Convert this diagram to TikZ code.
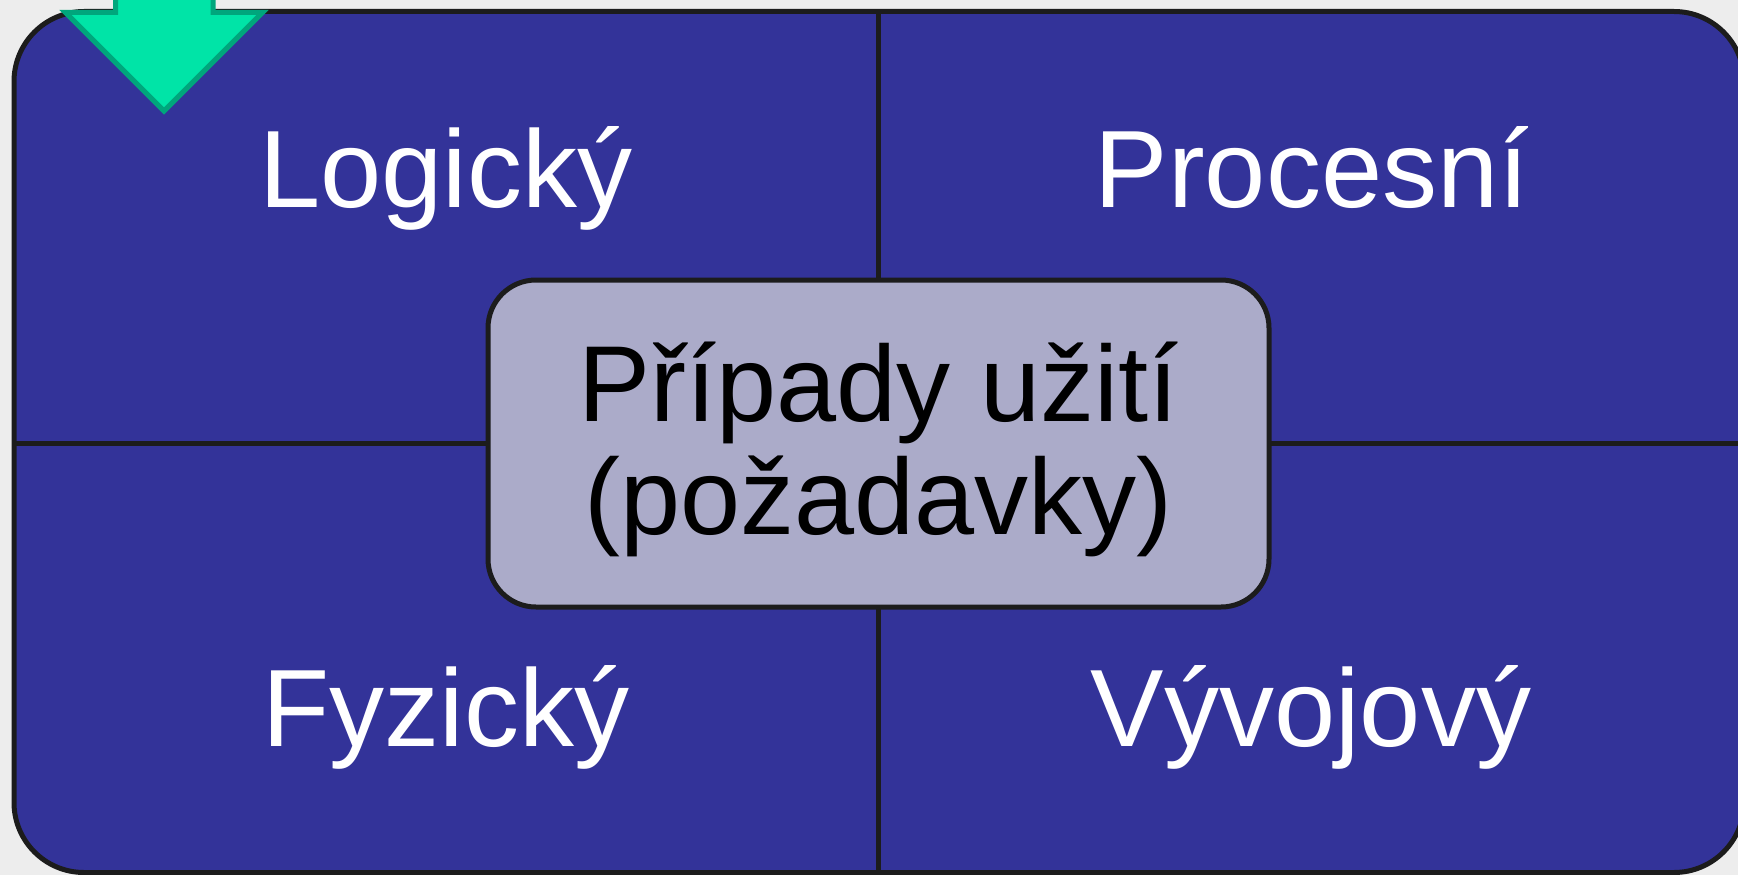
\documentclass[tikz,border=0pt]{standalone}
\usepackage{fontspec}
\setmainfont{Liberation Sans}
\definecolor{backdrop}{HTML}{EDEDED}
\definecolor{edge}{HTML}{1C1C1C}
\definecolor{panel}{HTML}{333399}
\definecolor{core}{HTML}{ABABC9}
\definecolor{arrowfill}{HTML}{00E4A7}
\definecolor{arrowedge}{HTML}{00A67C}
\begin{document}
\begin{tikzpicture}[x=1pt,y=-1pt,
  frame/.style={draw=edge, line width=5pt, fill=panel, rounded corners=70pt},
  divider/.style={draw=edge, line width=5pt},
  quadlabel/.style={text=white, font=\fontsize{110}{120}\selectfont, anchor=base, inner sep=0pt},
  centerbox/.style={draw=edge, line width=5pt, fill=core, rounded corners=48pt,
    minimum width=781pt, minimum height=327pt, align=center,
    font=\fontsize{108}{113}\selectfont, inner sep=0pt, text depth=11.5pt},
  pointer/.style={draw=arrowedge, fill=arrowfill, line width=5pt, line join=miter}]
  % page and background
  \fill[backdrop] (0,0) rectangle (1738,875);
  \useasboundingbox (0,0) rectangle (1738,875);
  \clip (0,0) rectangle (1738,875);

  % outer panel
  \draw[frame] (14,11.5) rectangle (1744,872.5);

  % quadrant dividers
  \coordinate (divtop) at (878,11.5);
  \coordinate (divbottom) at (878,872.5);
  \coordinate (divleft) at (14,443);
  \coordinate (divright) at (1744,443);
  \draw[divider] (divtop) -- (divbottom);
  \draw[divider] (divleft) -- (divright);

  % quadrant labels
  \node[quadlabel] (logical) at (446,207) {Logický};
  \node[quadlabel] (process) at (1312,207) {Procesní};
  \node[quadlabel] (physical) at (446,746) {Fyzický};
  \node[quadlabel] (develop) at (1311,746) {Vývojový};

  % central box
  \node[centerbox] (usecases) at (878.5,443.5) {Případy užití\\(požadavky)};

  % entry arrow
  \draw[pointer] (115.5,-10) -- (115.5,12.5) -- (65.5,12.5) -- (164,111)
    -- (262.5,12.5) -- (213,12.5) -- (213,-10) -- cycle;
\end{tikzpicture}
\end{document}
